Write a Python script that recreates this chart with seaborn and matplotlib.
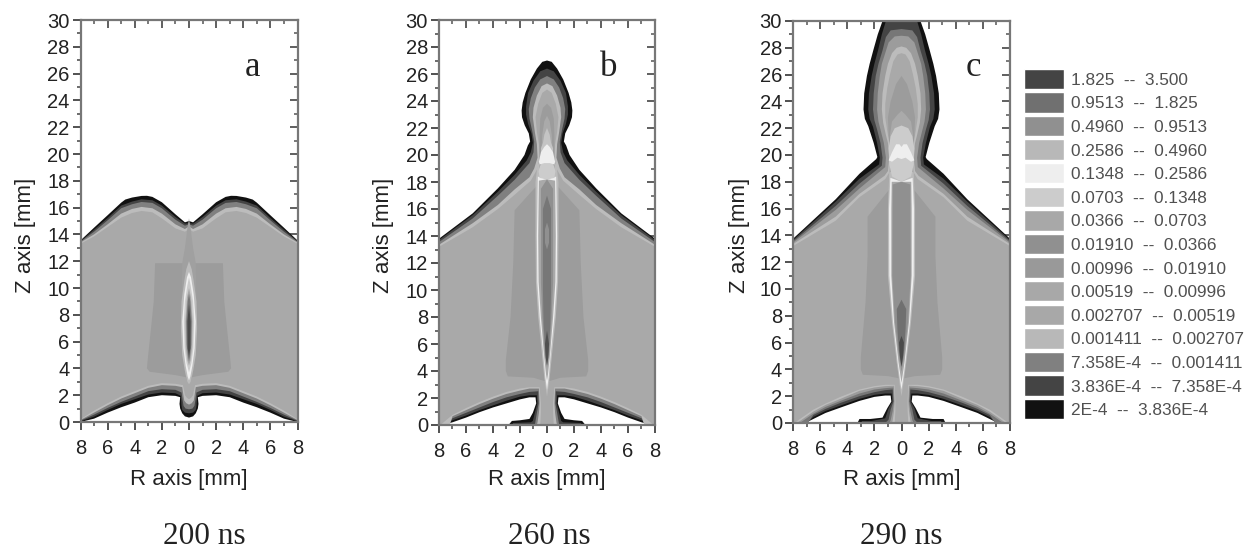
import numpy as np
import pandas as pd
import matplotlib
matplotlib.use('Agg')
import matplotlib.pyplot as plt
import seaborn as sns

BLACK, DARK, MID, LIGHT, MAIN = '#111111', '#444444', '#808080', '#bcbcbc', '#a9a9a9'
TOWER, STEEL, WHITE, PALE = '#9c9c9c', '#909090', '#eeeeee', '#cccccc'

# contour outlines: (r, z) in mm, right half, clockwise from the axis
a_black = [(0,15.0),(.3,14.9),(1,15.5),(2,16.4),(2.7,16.8),(3.1,16.88),(3.5,16.87),(4.2,16.75),(4.7,16.6),(5,16.37),(6,15.43),(7,14.5),(8,13.55),
           (8,0),(7,.25),(6,.7),(5,1.1),(4,1.45),(3,1.85),(2,2.0),(1,1.95),(.65,1.85),(.7,1.35),(.65,1.0),(.5,.65),(.3,.42),(0,.33)]
a_dark = [(0,14.85),(.3,14.8),(1,15.3),(2,16.15),(2.7,16.55),(3.5,16.62),(4.2,16.45),(5,16.15),(6,15.22),(7,14.35),(8,13.5),
          (8,.05),(7,.4),(6,.9),(5,1.35),(4,1.7),(3,2.05),(2,2.2),(1,2.15),(.6,1.95),(.55,1.2),(.5,.9),(.3,.7),(0,.65)]
a_mid = [(0,14.75),(.3,14.65),(1,15.1),(2,15.95),(2.7,16.35),(3.5,16.42),(4.2,16.25),(5,15.95),(6,15.05),(7,14.2),(8,13.45),
         (8,.1),(7,.55),(6,1.05),(5,1.5),(4,1.9),(3,2.3),(2,2.45),(1,2.4),(.55,2.2),(.45,1.5),(.4,1.2),(.25,1.0),(0,.95)]
a_light = [(0,14.6),(.3,14.4),(1,14.75),(2,15.55),(2.7,15.95),(3.5,16.05),(4.2,15.9),(5,15.55),(6,14.75),(7,14.0),(8,13.4),
           (8,.15),(7,.7),(6,1.25),(5,1.75),(4,2.15),(3,2.55),(2,2.75),(1,2.7),(.5,2.6),(.4,1.9),(.35,1.6),(.2,1.4),(0,1.3)]
a_main = [(0,14.4),(.3,14.2),(1,14.45),(2,15.2),(2.7,15.65),(3.5,15.75),(4.2,15.6),(5,15.25),(6,14.55),(7,13.85),(8,13.3),
          (8,.2),(7,.85),(6,1.4),(5,1.9),(4,2.3),(3,2.7),(2,2.9),(1,2.85),(.45,2.75),(.35,2.3),(.3,2),(.15,1.8),(0,1.7)]
a_tower = [(0,11.85),(2.5,11.85),(2.6,9),(2.8,7),(3.05,4.6),(3.1,4.0),(2.9,3.75),(1,3.5),(0,3.3)]
a_spike = [(0,15.2),(.1,14.6),(.3,13),(.5,11.85),(.55,9),(.3,3.5),(0,2.8)]
a_core1 = [(0,12.0),(.2,11.4),(.35,10.5),(.55,9),(.6,7),(.5,5),(.3,3.8),(.12,3),(0,2.8)]
a_core2 = [(0,11.2),(.15,10.8),(.35,9.5),(.5,7.5),(.42,5.5),(.25,4.2),(.1,3.4),(0,3.1)]
a_core3 = [(0,10.8),(.12,10.2),(.3,9),(.38,7.5),(.32,5.5),(.18,4.4),(0,3.7)]
a_core4 = [(0,10),(.15,9.3),(.27,7.5),(.24,5.6),(.12,4.6),(0,4.2)]
a_core5 = [(0,9.6),(.1,9),(.2,7.5),(.17,5.8),(.08,4.9),(0,4.5)]
a_core6 = [(0,8.8),(.12,7.5),(.1,5.5),(0,4.9)]

b_black = [(0,27),(.35,26.9),(.75,26.4),(1.2,25.6),(1.6,24.6),(1.8,23.9),(1.88,23.3),(1.85,22.8),(1.65,22.2),(1.35,21.6),(1.25,21),(1.42,20.7),
           (1.67,20),(2.4,18.9),(3.64,17.53),(5.5,15.68),(8,13.8),
           (8,0),(7.7,0),(7,.2),(6,.55),(5,.95),(4,1.3),(3,1.6),(2,1.9),(1.3,2.05),(.85,2.05),(.8,1.6),(1.05,.9),(1.3,.45),(2,.35),(2.6,.3),(2.85,0),(0,0)]
b_dark = [(0,26.4),(.5,26.2),(1.0,25.5),(1.4,24.6),(1.55,23.6),(1.55,23),(1.4,22.3),(1.15,21.6),(1.05,20.9),(1.2,20.2),(1.5,19.6),
          (2.4,18.53),(3.64,17.28),(5.5,15.55),(8,13.7),
          (8,0),(7.6,0),(7,.35),(6,.7),(5,1.1),(4,1.45),(3,1.8),(2,2.1),(1.3,2.2),(.75,2.2),(.72,1.6),(.9,.9),(1.05,.3),(1.2,.2),(2.5,.15),(2.6,0),(0,0)]
b_mid = [(0,25.85),(.5,25.6),(.9,25),(1.2,24.2),(1.35,23.4),(1.3,22.7),(1.1,21.8),(.95,21),(1.0,20.2),(1.3,19.4),(2.4,18.16),
         (3.64,16.98),(5.5,15.3),(8,13.55),
         (8,0),(7.4,0),(7,.5),(6,.9),(5,1.3),(4,1.7),(3,2.05),(2,2.3),(1.3,2.45),(.65,2.5),(.62,1.6),(.75,.9),(.85,.3),(.9,0),(0,0)]
b_light = [(0,25.3),(.4,25.1),(.75,24.4),(1.0,23.5),(1.05,22.8),(.9,21.7),(.75,20.8),(.7,19.8),(.95,19),(1.3,18.35),(2.4,17.45),
           (3.64,16.3),(5.5,14.95),(8,13.35),
           (8,0),(7.2,0),(7,.65),(6,1.1),(5,1.55),(4,1.95),(3,2.3),(2,2.55),(1.3,2.7),(.6,2.7),(.55,1.6),(.6,.9),(.7,.2),(.75,0),(0,0)]
b_main = [(0,24.85),(.35,24.6),(.65,23.8),(.85,22.8),(.75,21.7),(.6,20.8),(.55,19.8),(.7,19),(1.2,18.1),(2.4,17.05),(3.64,16.0),
          (5.5,14.65),(8,13.2),
          (8,0),(7.9,0),(7,.75),(6,1.25),(5,1.7),(4,2.1),(3,2.45),(2,2.7),(1.3,2.8),(.55,2.8),(.45,1.6),(.45,.9),(.5,0),(0,0)]
b_tower = [(0,18.5),(1.05,17.4),(2.4,15.9),(2.5,12),(2.7,8),(3.05,4.8),(3.05,4.0),(2.9,3.6),(1,3.5),(0,3.2)]
b_col1 = [(0,19.5),(.7,19.3),(.85,18),(.85,14),(.82,10.6),(.65,8),(.4,5.5),(.2,3.5),(0,2.1)]
b_col2 = [(0,18.2),(.68,18.4),(.75,14),(.72,10.6),(.55,8),(.3,5.5),(.12,3.5),(0,2.6)]
b_col3 = [(0,18.2),(.6,18.1),(.65,14),(.62,10.6),(.45,8),(.25,5.5),(.08,3.8),(0,3.3)]
b_col4 = [(0,18.2),(.45,17.5),(.45,10.6),(.35,8),(.18,5.5),(0,4.2)]
b_col5 = [(0,17),(.3,16),(.3,10),(.25,7.5),(.13,5.5),(0,4.5)]
b_col6 = [(0,7),(.15,6),(.1,5),(0,4.4)]
b_spot = [(0,15),(.15,14.5),(.15,13.5),(0,13)]
b_up1 = [(0,23.8),(.3,23.5),(.5,22.7),(.55,21.5),(.55,20),(.55,19),(0,19)]
b_up2 = [(0,22.9),(.2,22.5),(.35,21.5),(.4,20.5),(.4,19.5),(0,19.5)]
b_up3 = [(0,22),(.2,21.5),(.3,20.9),(.45,20.5),(.45,19.5),(0,19.5)]
b_up4 = [(0,19.5),(.45,19.4),(.62,18.8),(.55,18.3),(0,18.2)]
b_up5 = [(0,20.8),(.2,20.6),(.45,20.2),(.6,19.5),(.55,19.3),(.2,19.4),(0,19.4)]

c_black = [(0,30),(1.4,30),(1.75,29),(2.07,27.85),(2.35,26.8),(2.55,25.9),(2.75,24.6),(2.8,23.4),(2.7,22.7),(2.45,22.15),(2.05,20.9),
           (1.78,19.85),(1.86,19.7),(3.1,18.6),(4.85,16.7),(8,13.75),
           (8,0),(7.1,0),(6.5,.3),(5.6,.75),(4.5,1.15),(3.1,1.65),(2,1.95),(1.2,2.05),(.8,2.05),(.75,1.6),(1.05,1.1),(1.4,.4),(2.3,.3),(3.1,.3),(3.25,0),(0,0)]
c_dark = [(0,30),(1.15,30),(1.45,29),(1.72,27.85),(2.0,26.8),(2.2,25.9),(2.4,24.6),(2.45,23.4),(2.35,22.7),(2.1,22.1),(1.8,20.9),
          (1.6,19.8),(1.65,19.3),(3.1,18.23),(4.85,16.52),(8,13.65),
          (8,0),(7.0,0),(6.5,.45),(5.6,.9),(4.5,1.3),(3.1,1.8),(2,2.1),(1.2,2.2),(.72,2.2),(.68,1.6),(.95,1.1),(1.2,.35),(2.2,.15),(2.9,.15),(3,0),(0,0)]
c_mid = [(0,29.4),(.8,29.3),(1.15,28.8),(1.4,27.8),(1.7,26.8),(1.9,25.9),(2.05,24.6),(2.1,23.4),(2,22.6),(1.8,21.9),(1.55,20.9),
         (1.4,19.8),(1.45,19.2),(3.1,17.86),(4.85,16.2),(8,13.55),
         (8,0),(6.9,0),(6.5,.6),(5.6,1.05),(4.5,1.5),(3.1,2),(2,2.3),(1.2,2.45),(.65,2.5),(.6,1.6),(.8,1),(.95,.25),(1.2,0),(0,0)]
c_steel = [(0,28.9),(.5,28.85),(.95,28.4),(1.2,27.6),(1.45,26.8),(1.6,25.9),(1.75,24.6),(1.8,23.4),(1.7,22.5),(1.5,21.7),(1.3,20.9),
           (1.15,19.8),(1.2,19.1),(3.1,17.5),(4.85,15.9),(8,13.45),
           (8,0),(7.5,0),(6.5,.7),(5.6,1.2),(4.5,1.65),(3.1,2.2),(2,2.5),(1.2,2.6),(.6,2.65),(.55,1.6),(.65,.9),(.8,.2),(.9,0),(0,0)]
c_light = [(0,28.1),(.35,28),(.7,27.6),(1.0,26.8),(1.2,25.9),(1.4,24.6),(1.45,23.4),(1.35,22.4),(1.15,21.5),(1,20.9),(.9,19.8),
           (1,18.8),(1.25,18.45),(3.1,17.1),(4.85,15.4),(8,13.35),
           (8,0),(7.7,0),(6.5,.85),(5.6,1.35),(4.5,1.8),(3.1,2.4),(2,2.65),(1.2,2.75),(.55,2.78),(.5,1.6),(.55,.9),(.65,.2),(.7,0),(0,0)]
c_main = [(0,27.6),(.3,27.5),(.6,27),(.85,26),(1.05,25),(1.2,23.8),(1.2,22.8),(1.05,21.8),(.9,20.9),(.8,19.8),(.9,18.7),(1.2,18.2),
          (3.1,16.85),(4.85,15.1),(8,13.2),
          (8,0),(7.9,0),(6.5,1),(5.6,1.45),(4.5,1.95),(3.1,2.5),(2,2.75),(1.2,2.85),(.5,2.85),(.45,1.6),(.45,.9),(.5,0),(0,0)]
c_tower = [(0,18.7),(1,17.3),(2.5,15.4),(2.5,12.5),(2.65,9),(3.0,4.9),(3.0,4),(2.85,3.6),(1,3.5),(0,3.3)]
c_col1 = [(0,19),(.9,18.7),(1.0,16),(1.0,11),(.7,7.5),(.35,4.5),(.12,2.8),(0,2)]
c_col2 = [(0,18),(.82,18.3),(.92,16),(.9,11),(.62,7.5),(.28,4.5),(.08,3),(0,2.5)]
c_col3 = [(0,18),(.72,18),(.75,16),(.75,11),(.55,7.5),(.22,4.5),(0,3)]
c_col4 = [(0,18),(.65,17.8),(.68,11),(.48,7.5),(.2,5),(0,3.8)]
c_col5 = [(0,9.2),(.35,8.5),(.3,7),(.2,5.5),(0,4.2)]
c_col6 = [(0,6.5),(.18,6),(.12,5),(0,4.2)]
c_up1 = [(0,25.9),(.4,25.3),(.8,24),(1.0,22.8),(.95,21.5),(.85,20.5),(.8,19),(0,19)]
c_up2 = [(0,23.3),(.3,23),(.7,22.5),(.85,21.5),(.85,20),(0,19.6)]
c_up3 = [(0,22.2),(.5,22),(.8,21.4),(.95,20.5),(.9,19.3),(.7,18.4),(0,18)]
c_up4 = [(0,20.6),(.15,20.8),(.4,20.8),(.7,20.2),(.95,19.6),(.7,19.5),(.3,19.8),(0,19.7)]

a_layers = [(a_black, BLACK), (a_dark, DARK), (a_mid, MID), (a_light, LIGHT), (a_main, MAIN), (a_tower, TOWER),
            (a_spike, '#a0a0a0'), (a_core1, LIGHT), (a_core2, WHITE), (a_core3, PALE), (a_core4, MAIN),
            (a_core5, '#777777'), (a_core6, '#4a4a4a')]
b_layers = [(b_black, BLACK), (b_dark, DARK), (b_mid, MID), (b_light, LIGHT), (b_main, MAIN), (b_tower, TOWER),
            (b_col1, LIGHT), (b_col2, WHITE), (b_col3, MAIN), (b_col4, STEEL), (b_col5, '#777777'), (b_col6, '#505050'),
            (b_spot, STEEL), (b_up1, TOWER), (b_up2, '#aaaaaa'), (b_up3, '#c4c4c4'), (b_up4, PALE), (b_up5, WHITE)]
c_layers = [(c_black, BLACK), (c_dark, DARK), (c_mid, '#777777'), (c_steel, TOWER), (c_light, LIGHT), (c_main, MAIN),
            (c_tower, TOWER), (c_col1, LIGHT), (c_col2, WHITE), (c_col3, MAIN), (c_col4, STEEL), (c_col5, '#707070'),
            (c_col6, '#4a4a4a'), (c_up1, TOWER), (c_up2, '#aaaaaa'), (c_up3, PALE), (c_up4, WHITE)]

panel_letters = ['a', 'b', 'c']
panel_times = ['200 ns', '260 ns', '290 ns']
r_tick_labels = ['8', '6', '4', '2', '0', '2', '4', '6', '8']

legend_labels = ['1.825  --  3.500', '0.9513  --  1.825', '0.4960  --  0.9513', '0.2586  --  0.4960',
                 '0.1348  --  0.2586', '0.0703  --  0.1348', '0.0366  --  0.0703', '0.01910  --  0.0366',
                 '0.00996  --  0.01910', '0.00519  --  0.00996', '0.002707  --  0.00519', '0.001411  --  0.002707',
                 '7.358E-4  --  0.001411', '3.836E-4  --  7.358E-4', '2E-4  --  3.836E-4']
legend_colors = ['#444444', '#707070', '#909090', '#b8b8b8', '#eeeeee', '#cccccc', '#a8a8a8', '#909090',
                 '#999999', '#a8a8a8', '#a8a8a8', '#b8b8b8', '#808080', '#444444', '#111111']

sns.set_style('ticks')
plt.rcParams['font.family'] = ['Liberation Sans', 'DejaVu Sans']

W, H = 1252, 550
fig = plt.figure(figsize=(W / 100, H / 100), dpi=100)


def px_axes(left, top, right, bottom):
    return fig.add_axes([left / W, 1 - bottom / H, (right - left) / W, (bottom - top) / H])


def draw_layer(ax, pts, color):
    r, z = np.array(pts, dtype=float).T
    ax.fill(np.r_[r, -r[::-1]], np.r_[z, z[::-1]], color=color, lw=0, zorder=1)


def style_panel(ax, box, zlabel_x):
    ax.set_xlim(-8, 8)
    ax.set_ylim(0, 30)
    ax.set_xticks(np.arange(-8, 9, 2))
    ax.set_xticks(np.arange(-8, 9, 1), minor=True)
    ax.set_yticks(np.arange(0, 31, 2))
    ax.set_yticks(np.arange(0, 31, 1), minor=True)
    ax.set_xticklabels(r_tick_labels)
    ax.tick_params(which='major', length=6, width=1.2, color='#333333', labelsize=14.5,
                   labelcolor='#222222', direction='out')
    ax.tick_params(which='minor', length=3, width=1.1, color='#444444', direction='out')
    ax.tick_params(axis='x', which='major', pad=6)
    ax.tick_params(axis='y', which='major', pad=2)
    ax.set_xlabel('R axis [mm]', fontsize=16, color='#222222', va='center')
    ax.set_ylabel('Z axis [mm]', fontsize=16, color='#222222', va='center')
    wide, tall = box[2] - box[0], box[3] - box[1]
    ax.xaxis.set_label_coords(0.5, (box[3] - 480) / tall)
    ax.yaxis.set_label_coords((zlabel_x - box[0]) / wide, (box[3] - 235) / tall)
    for side in ax.spines.values():
        side.set_color('#777777')
        side.set_linewidth(1.6)
        side.set_zorder(5)
    # top and right carry inward ticks without labels
    top = ax.secondary_xaxis('top')
    top.set_xticks(np.arange(-8, 9, 2))
    top.set_xticks(np.arange(-8, 9, 1), minor=True)
    right = ax.secondary_yaxis('right')
    right.set_yticks(np.arange(0, 31, 2))
    right.set_yticks(np.arange(0, 31, 1), minor=True)
    for sec, lab in ((top, 'labeltop'), (right, 'labelright')):
        sec.tick_params(which='major', length=6, width=1.2, color='#444444', direction='in', **{lab: False})
        sec.tick_params(which='minor', length=3, width=1.1, color='#555555', direction='in')
        sec.spines[:].set_visible(False)


boxes = [(80.5, 20, 297.5, 422), (439, 20, 655, 425), (793, 21, 1010, 423)]
letter_pos = [(253, 68), (609, 67), (973, 68)]
zlabel_x = [25, 384, 740]
time_x = [204, 549, 901]
all_layers = [a_layers, b_layers, c_layers]

for i, box in enumerate(boxes):
    ax = px_axes(*box)
    for pts, col in all_layers[i]:
        draw_layer(ax, pts, col)
    style_panel(ax, box, zlabel_x[i])
    fig.text(letter_pos[i][0] / W, 1 - letter_pos[i][1] / H, panel_letters[i], family='Liberation Serif',
             fontsize=25, color='#222222', ha='center', va='center')
    fig.text(time_x[i] / W, 1 - 537 / H, panel_times[i], family='Liberation Serif', fontsize=22.5,
             color='#222222', ha='center', va='center')

# colour key as a one-value bar chart
key = pd.DataFrame({'label': legend_labels, 'width': [1] * len(legend_labels)})
lax = px_axes(1024, 67, 1064, 421)
sns.barplot(data=key, x='width', y='label', hue='label', palette=legend_colors, dodge=False,
            legend=False, saturation=1, width=0.86, ax=lax)
lax.set_xlim(0, 1)
lax.set_xlabel('')
lax.set_ylabel('')
lax.set_xticks([])
lax.yaxis.tick_right()
lax.tick_params(axis='y', length=0, pad=5, labelsize=12.4, labelcolor='#505050')
for side in lax.spines.values():
    side.set_visible(False)

fig.savefig('out.png', dpi=100)
